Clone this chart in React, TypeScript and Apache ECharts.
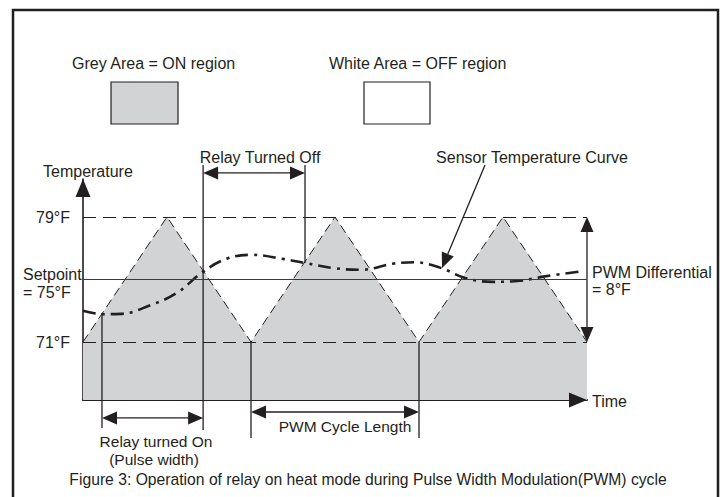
import React, { useEffect, useRef } from "react";
import * as echarts from "echarts";

// ---- data ----
const triangleX = [0, 1, 2, 3, 4, 5, 6];
const triangleTemp = [71, 79, 71, 79, 71, 79, 71];

const sensorX = [0, 0.25, 0.45, 0.8, 1.12, 1.43, 1.72, 2.0, 2.38, 2.64, 3.0, 3.3, 3.7, 3.95, 4.25, 4.55, 4.88, 5.2, 5.5, 5.9];
const sensorTemp = [73.0, 72.78, 72.8, 73.35, 74.15, 75.5, 76.35, 76.58, 76.32, 76.06, 75.72, 75.62, 76.02, 76.1, 75.76, 75.1, 74.85, 74.92, 75.2, 75.5];

const upperLimit = 79;
const lowerLimit = 71;
const setpoint = 75;
const tickLabels = ["79°F", "71°F"];

// annotation segments: [x1, y1, x2, y2, arrows(0 none,1 end,2 start,3 both)]
const relayOffLines = [
  [1.43, 82.33, 1.43, 65.37, 0],
  [2.643, 82.33, 2.643, 76.06, 0],
  [1.43, 81.82, 2.643, 81.82, 3],
];
const relayOnLines = [
  [0.226, 72.85, 0.226, 65.5, 0],
  [0.226, 66.14, 1.43, 66.14, 3],
];
const cycleLines = [
  [2, 71, 2, 64.86, 0],
  [4, 71, 4, 64.86, 0],
  [2, 66.52, 4, 66.52, 3],
];
const differentialLines = [[6, 79, 6, 71, 3]];
const sensorPointer = [[4.786, 82.33, 4.274, 75.74, 1]];

const DARK = "#231f20";
const GREY = "#d1d3d4";
const FONT = "Liberation Sans, Arial, sans-serif";

function txt(x: number, y: number, text: string, align = "left", size = 16) {
  return {
    type: "text",
    x,
    y,
    silent: true,
    style: {
      text,
      fill: DARK,
      fontSize: size,
      fontFamily: FONT,
      textAlign: align,
      textVerticalAlign: "middle",
    },
  };
}

export default function App() {
  const ref = useRef<HTMLDivElement>(null);
  useEffect(() => {
    if (!ref.current) return;
    const chart = echarts.init(ref.current, null, { renderer: "svg" });
    const pxPerDeg = 125 / 8;
    const yMin = lowerLimit - 58 / pxPerDeg;
    const yMax = upperLimit + 38 / pxPerDeg;

    // axis arrowheads (mode 5: head only, axis size)
    const axisHeads = [
      [0, yMin, 0, yMax, 5],
      [0, yMin, 6, yMin, 5],
    ];

    const annotations = [
      ...relayOffLines,
      ...relayOnLines,
      ...cycleLines,
      ...differentialLines,
      ...sensorPointer,
      ...axisHeads,
    ];

    const option: any = {
      animation: false,
      backgroundColor: "#ffffff",
      grid: { left: 83, width: 504, top: 179, height: 221, containLabel: false },
      xAxis: {
        type: "value",
        min: 0,
        max: 6,
        axisLine: { show: true, lineStyle: { color: DARK, width: 2 } },
        axisTick: { show: false },
        axisLabel: { show: false },
        splitLine: { show: false },
      },
      yAxis: {
        type: "value",
        min: yMin,
        max: yMax,
        axisLine: { show: true, lineStyle: { color: DARK, width: 1.6 } },
        axisTick: { show: false },
        axisLabel: { show: false },
        splitLine: { show: false },
      },
      series: [
        {
          type: "line",
          data: triangleX.map((x, i) => [x, triangleTemp[i]]),
          symbol: "none",
          lineStyle: { color: DARK, width: 1, type: [9, 5] },
          areaStyle: { color: GREY, opacity: 1, origin: "start" },
          z: 1,
          markLine: {
            silent: true,
            symbol: "none",
            animation: false,
            data: [
              {
                yAxis: upperLimit,
                lineStyle: { color: DARK, width: 1.2, type: [13, 7] },
                label: { show: true, position: "start", distance: 13, formatter: tickLabels[0], color: DARK, fontSize: 16, fontFamily: FONT },
              },
              {
                yAxis: lowerLimit,
                lineStyle: { color: DARK, width: 1.2, type: [13, 7] },
                label: { show: true, position: "start", distance: 13, formatter: tickLabels[1], color: DARK, fontSize: 16, fontFamily: FONT },
              },
              {
                yAxis: setpoint,
                lineStyle: { color: "#3a3a3a", width: 1, type: "solid" },
                label: { show: false },
              },
            ],
          },
        },
        {
          type: "line",
          data: sensorX.map((x, i) => [x, sensorTemp[i]]),
          symbol: "none",
          smooth: 0.4,
          lineStyle: { color: DARK, width: 2.6, type: [13, 6, 3, 6] },
          z: 3,
        },
        {
          type: "custom",
          clip: false,
          z: 4,
          data: annotations,
          renderItem: (params: any, api: any) => {
            const p1 = api.coord([api.value(0), api.value(1)]);
            const p2 = api.coord([api.value(2), api.value(3)]);
            const mode = api.value(4);
            const dx = p2[0] - p1[0];
            const dy = p2[1] - p1[1];
            const L = Math.hypot(dx, dy) || 1;
            const ux = dx / L;
            const uy = dy / L;
            const isAxis = mode === 5;
            const len = isAxis ? 18 : 15;
            const half = isAxis ? 7.5 : 6.5;
            const a = [p1[0], p1[1]];
            const b = [p2[0], p2[1]];
            const children: any[] = [];
            const head = (tip: number[], dirx: number, diry: number) => {
              const bx = tip[0] - dirx * len;
              const by = tip[1] - diry * len;
              return {
                type: "polygon",
                shape: {
                  points: [
                    [tip[0], tip[1]],
                    [bx - diry * half, by + dirx * half],
                    [bx + diry * half, by - dirx * half],
                  ],
                },
                style: { fill: DARK },
              };
            };
            if (mode & 2 && !isAxis) {
              children.push(head(p1, -ux, -uy));
              a[0] = p1[0] + ux * (len - 1);
              a[1] = p1[1] + uy * (len - 1);
            }
            if (mode & 1) {
              children.push(head(p2, ux, uy));
              b[0] = p2[0] - ux * (len - 1);
              b[1] = p2[1] - uy * (len - 1);
            }
            if (!isAxis) {
              children.unshift({
                type: "line",
                shape: { x1: a[0], y1: a[1], x2: b[0], y2: b[1] },
                style: { stroke: DARK, lineWidth: 1.3 },
              });
            }
            return { type: "group", children };
          },
        },
      ],
      graphic: [
        {
          type: "rect",
          silent: true,
          shape: { x: 13, y: 10, width: 705, height: 500 },
          style: { fill: "none", stroke: DARK, lineWidth: 2.5 },
          z: 10,
        },
        {
          type: "rect",
          silent: true,
          shape: { x: 111, y: 82, width: 67, height: 42 },
          style: { fill: GREY, stroke: DARK, lineWidth: 1.2 },
        },
        {
          type: "rect",
          silent: true,
          shape: { x: 364, y: 82, width: 66, height: 42 },
          style: { fill: "#ffffff", stroke: DARK, lineWidth: 1.2 },
        },
        txt(72, 63, "Grey Area = ON region"),
        txt(329, 63, "White Area = OFF region"),
        txt(43, 171, "Temperature"),
        txt(260, 157, "Relay Turned Off", "center"),
        txt(532, 157, "Sensor Temperature Curve", "center"),
        txt(23, 274, "Setpoint"),
        txt(23, 292, "= 75°F"),
        txt(592, 272, "PWM Differential"),
        txt(592, 289, "= 8°F"),
        txt(592, 401, "Time"),
        txt(345, 426, "PWM Cycle Length", "center", 15.5),
        txt(156, 441, "Relay turned On", "center", 15.5),
        txt(154, 459, "(Pulse width)", "center", 15.5),
        txt(368, 479, "Figure 3: Operation of relay on heat mode during Pulse Width Modulation(PWM) cycle", "center", 15.7),
      ],
    };
    chart.setOption(option);
    return () => chart.dispose();
  }, []);
  return (
    <div
      ref={ref}
      style={{ position: "fixed", left: 0, top: 0, width: 725, height: 497, background: "#fff" }}
    />
  );
}
